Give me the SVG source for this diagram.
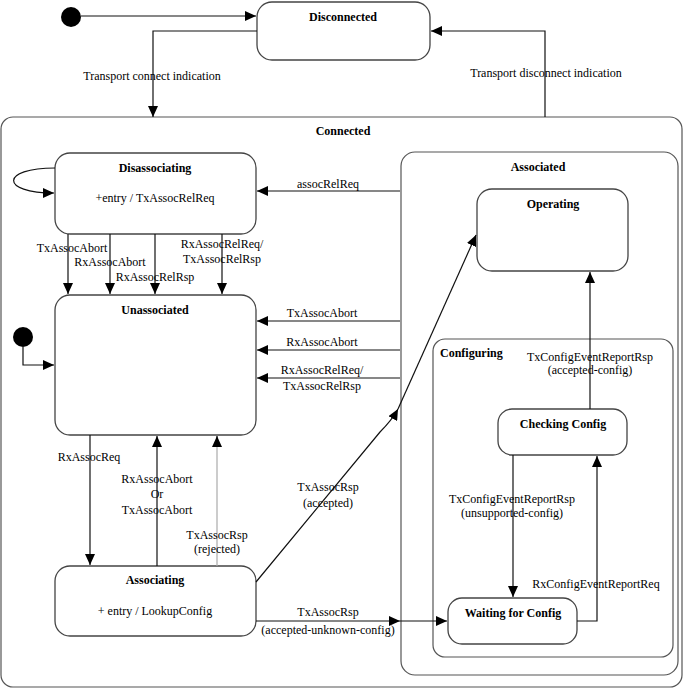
<svg xmlns="http://www.w3.org/2000/svg" width="685" height="690" viewBox="0 0 685 690">
<defs>
<marker id="ah" markerUnits="userSpaceOnUse" markerWidth="12" markerHeight="10" refX="11" refY="5" orient="auto"><path d="M0,0 L11,5 L0,10 Z" fill="#000"/></marker>
<style>
.box{fill:#fff;stroke:#444;stroke-width:1.3}
.ctr{fill:none;stroke:#555;stroke-width:1.2}
.t{font-family:"Liberation Serif","Times New Roman",serif;font-size:12px;fill:#000;text-anchor:middle}
.b{font-weight:bold}
.l{text-anchor:start}
.c{fill:none;stroke:#111;stroke-width:1.2}
.g{fill:none;stroke:#aaa;stroke-width:1.2}
</style>
</defs>
<rect width="685" height="690" fill="#fff"/>
<g id="init-top"><circle cx="71" cy="17" r="10" fill="#000"/></g>
<g id="disconnected"><rect class="box" x="257" y="2" width="173" height="58" rx="15"/><text class="t b" x="343" y="21">Disconnected</text></g>
<g id="connected"><rect class="ctr" x="1" y="117" width="681" height="570" rx="12"/><text class="t b" x="343" y="135">Connected</text></g>
<g id="associated"><rect class="ctr" x="401" y="152" width="277" height="523" rx="14"/><text class="t b" x="538" y="171">Associated</text></g>
<g id="configuring"><rect class="ctr" x="433" y="339" width="240" height="318" rx="12"/><text class="t b l" x="440" y="357">Configuring</text></g>
<g id="disassociating"><rect class="box" x="55" y="153" width="201" height="81" rx="15"/><text class="t b" x="155" y="172">Disassociating</text><text class="t" x="155" y="202">+entry / TxAssocRelReq</text></g>
<g id="unassociated"><rect class="box" x="55" y="295" width="201" height="140" rx="15"/><text class="t b" x="155" y="314">Unassociated</text></g>
<g id="init-unassoc"><circle cx="23" cy="337" r="10" fill="#000"/></g>
<g id="associating"><rect class="box" x="55" y="566" width="201" height="70" rx="15"/><text class="t b" x="155" y="584">Associating</text><text class="t" x="155" y="615">+ entry / LookupConfig</text></g>
<g id="operating"><rect class="box" x="477" y="189" width="151" height="82" rx="15"/><text class="t b" x="553" y="208">Operating</text></g>
<g id="checking"><rect class="box" x="498" y="409" width="129" height="46" rx="14"/><text class="t b" x="563" y="428">Checking Config</text></g>
<g id="waiting"><rect class="box" x="448" y="598" width="129" height="46" rx="14"/><text class="t b" x="513" y="617">Waiting for Config</text></g>
<g id="connectors">
<path class="c" d="M81,16 H256" marker-end="url(#ah)"/>
<path class="c" d="M257,31 H153 V117" marker-end="url(#ah)"/>
<path class="c" d="M545,117 V31 H431" marker-end="url(#ah)"/>
<path class="c" d="M55,168 C0,168 0,193 54,193" marker-end="url(#ah)"/>
<path class="c" d="M400,191 H257" marker-end="url(#ah)"/>
<path class="c" d="M68,234 V294" marker-end="url(#ah)"/>
<path class="c" d="M110,234 V294" marker-end="url(#ah)"/>
<path class="c" d="M155,234 V294" marker-end="url(#ah)"/>
<path class="c" d="M222,234 V294" marker-end="url(#ah)"/>
<path class="c" d="M400,321 H257" marker-end="url(#ah)"/>
<path class="c" d="M400,350 H257" marker-end="url(#ah)"/>
<path class="c" d="M400,378 H257" marker-end="url(#ah)"/>
<path class="c" d="M23,347 V365 H54" marker-end="url(#ah)"/>
<path class="c" d="M90,435 V565" marker-end="url(#ah)"/>
<path class="c" d="M157,566 V436" marker-end="url(#ah)"/>
<path class="g" d="M217,566 V446"/>
<path class="c" d="M217,447 V436" marker-end="url(#ah)"/>
<path class="c" d="M256,582 L380,432 Q392,420 398,409" marker-end="url(#ah)"/>
<path class="c" d="M398,409 L476,235" marker-end="url(#ah)"/>
<path class="c" d="M256,621 H400" marker-end="url(#ah)"/>
<path class="c" d="M400,621 H447" marker-end="url(#ah)"/>
<path class="c" d="M590,409 V272" marker-end="url(#ah)"/>
<path class="c" d="M513,455 V597" marker-end="url(#ah)"/>
<path class="c" d="M577,621 H597 V456" marker-end="url(#ah)"/>
</g>
<g id="labels">
<text class="t" x="152" y="80">Transport connect indication</text>
<text class="t" x="546" y="77">Transport disconnect indication</text>
<text class="t" x="328" y="188">assocRelReq</text>
<text class="t" x="72" y="252">TxAssocAbort</text>
<text class="t" x="110" y="266">RxAssocAbort</text>
<text class="t" x="155" y="281">RxAssocRelRsp</text>
<text class="t" x="222" y="248">RxAssocRelReq/</text>
<text class="t" x="222" y="263">TxAssocRelRsp</text>
<text class="t" x="322" y="317">TxAssocAbort</text>
<text class="t" x="322" y="346">RxAssocAbort</text>
<text class="t" x="322" y="374">RxAssocRelReq/</text>
<text class="t" x="322" y="390">TxAssocRelRsp</text>
<text class="t" x="89" y="461">RxAssocReq</text>
<text class="t" x="157" y="483">RxAssocAbort</text>
<text class="t" x="157" y="498">Or</text>
<text class="t" x="157" y="514">TxAssocAbort</text>
<text class="t" x="217" y="539">TxAssocRsp</text>
<text class="t" x="217" y="553">(rejected)</text>
<text class="t" x="328" y="491">TxAssocRsp</text>
<text class="t" x="328" y="507">(accepted)</text>
<text class="t" x="328" y="616">TxAssocRsp</text>
<text class="t" x="328" y="634">(accepted-unknown-config)</text>
<text class="t" x="590" y="361">TxConfigEventReportRsp</text>
<text class="t" x="590" y="374">(accepted-config)</text>
<text class="t" x="512" y="503">TxConfigEventReportRsp</text>
<text class="t" x="512" y="517">(unsupported-config)</text>
<text class="t" x="596" y="588">RxConfigEventReportReq</text>
</g>
</svg>
